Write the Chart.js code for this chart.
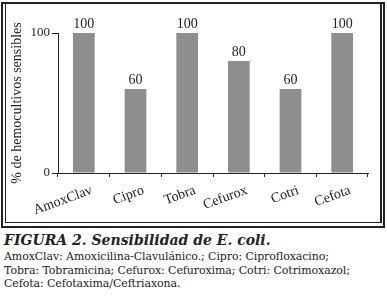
<!DOCTYPE html>
<html>
<head>
<meta charset="utf-8">
<script src="https://cdn.jsdelivr.net/npm/chart.js@4.4.0/dist/chart.umd.min.js"></script>
<style>
  body { margin: 0; background: #fff; width: 387px; height: 297px; overflow: hidden; position: relative; }
  #outer { position: absolute; left: 1px; top: 2px; width: 380px; height: 222px; border: 2px solid #222; }
  #inner { position: absolute; left: 5px; top: 4px; width: 374px; height: 218px; border: 1px solid #222; border-top: none; border-right-width: 2px; }
  #wrap { position: absolute; left: 0; top: 0; width: 387px; height: 228px; }
  #caption { position: absolute; left: 4px; top: 232px; font-family: "DejaVu Serif", serif; color: #222; }
  #caption .title { font-weight: bold; font-style: italic; font-size: 14px; margin-bottom: 2px; }
  #caption .line { font-size: 11px; line-height: 13.5px; letter-spacing: -0.1px; }
</style>
</head>
<body>
<div id="outer"></div>
<div id="inner"></div>
<div id="wrap"><canvas id="chart" width="387" height="228"></canvas></div>
<div id="caption">
  <div class="title">FIGURA 2. Sensibilidad de E. coli.</div>
  <div class="line">AmoxClav: Amoxicilina-Clavulánico.; Cipro: Ciprofloxacino;</div>
  <div class="line">Tobra: Tobramicina; Cefurox: Cefuroxima; Cotri: Cotrimoxazol;</div>
  <div class="line">Cefota: Cefotaxima/Ceftriaxona.</div>
</div>
<script>
const categories = ["AmoxClav", "Cipro", "Tobra", "Cefurox", "Cotri", "Cefota"];
const sensitivity = [100, 60, 100, 80, 60, 100];
const yTicks = [0, 100];

const serif = "'Liberation Serif', 'Times New Roman', serif";

// value labels above each bar
const valueLabels = {
    id: "valueLabels",
    afterDatasetsDraw(chart) {
        const ctx = chart.ctx;
        const meta = chart.getDatasetMeta(0);
        ctx.save();
        ctx.font = "14px " + serif;
        ctx.fillStyle = "#222";
        ctx.textAlign = "center";
        ctx.textBaseline = "bottom";
        meta.data.forEach((bar, i) => {
            ctx.fillText(sensitivity[i], bar.x, bar.y - 2);
        });
        ctx.restore();
    }
};

const ctx = document.getElementById("chart").getContext("2d");
new Chart(ctx, {
    type: "bar",
    data: {
        labels: categories,
        datasets: [{
            data: sensitivity,
            backgroundColor: "#8e8e8e",
            borderWidth: 0,
            barPercentage: 0.84,
            categoryPercentage: 0.5
        }]
    },
    options: {
        responsive: false,
        animation: false,
        layout: { padding: { top: 33, right: 19, left: 0, bottom: 0 } },
        plugins: { legend: { display: false }, tooltip: { enabled: false } },
        scales: {
            x: {
                afterFit: s => { s.height = 55; },
                grid: { display: true, drawOnChartArea: false, tickLength: 4, color: "#222", offset: true },
                border: { color: "#222", width: 1 },
                ticks: {
                    font: { family: serif, size: 14 },
                    color: "#222",
                    autoSkip: false,
                    minRotation: 20,
                    maxRotation: 20,
                    labelOffset: 8,
                    padding: 5
                }
            },
            y: {
                min: 0,
                max: 100,
                afterFit: s => { s.width = 58; },
                afterBuildTicks: s => { s.ticks = yTicks.map(v => ({ value: v })); },
                grid: { display: true, drawOnChartArea: false, tickLength: 6, color: "#222" },
                border: { color: "#222", width: 1 },
                ticks: {
                    font: { family: serif, size: 13 },
                    color: "#222",
                    padding: 2
                },
                title: {
                    display: true,
                    text: "% de hemocultivos sensibles",
                    font: { family: serif, size: 14 },
                    color: "#222",
                    padding: { top: 9, bottom: 0 }
                }
            }
        }
    },
    plugins: [valueLabels]
});
</script>
</body>
</html>
